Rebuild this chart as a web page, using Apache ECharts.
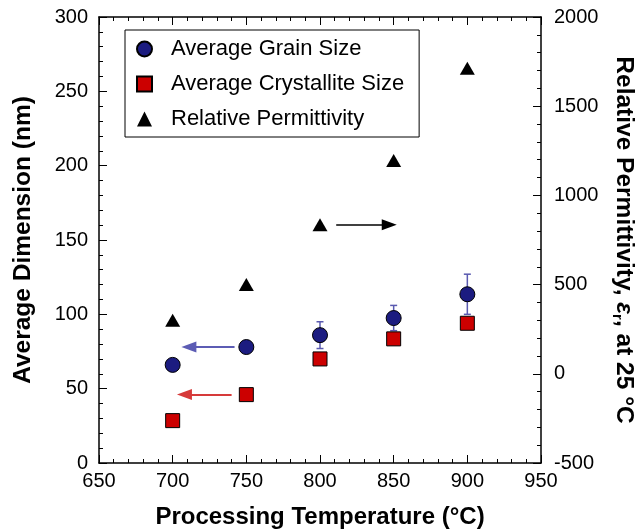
<!DOCTYPE html>
<html>
<head>
<meta charset="utf-8">
<script src="https://cdn.jsdelivr.net/npm/echarts@6/dist/echarts.min.js"></script>
<style>
  html, body { margin: 0; padding: 0; background: #fff; }
  #chart { width: 642px; height: 531px; }
</style>
</head>
<body>
<div id="chart"></div>
<script>
// processing temperature (°C)
const temps = [700, 750, 800, 850, 900];
// average grain size (nm) and its error (+/-)
const grainSize = [66, 78, 86, 97.5, 113.5];
const grainErr = [0, 0, 9, 8.5, 13.5];
// average crystallite size (nm)
const crystalSize = [28.5, 46, 70, 83.5, 94];
// relative permittivity at 25 °C (right axis)
const permittivity = [300, 500, 835, 1195, 1713];

// annotation arrows, [start, end] in data units
const grainArrow = [[742, 78], [711, 78]];
const crystalArrow = [[740, 46], [708, 46]];
const permArrow = [[811, 835], [847, 835]];

const font = "'Liberation Sans', Arial, Helvetica, sans-serif";

const chart = echarts.init(document.getElementById("chart"));

function arrowLine(pts, color, width) {
  return {
    silent: true,
    symbol: ["none", "triangle"],
    symbolSize: [11, 15],
    label: { show: false },
    lineStyle: { color: color, width: width, type: "solid" },
    emphasis: { disabled: true },
    data: [[{ coord: pts[0] }, { coord: pts[1] }]],
  };
}

const tickLabel = { fontSize: 20, color: "#000", fontFamily: font };

chart.setOption({
  animation: false,
  textStyle: { fontFamily: font },
  grid: { left: 99, right: 101, top: 17, bottom: 68, outerBoundsMode: "none" },
  legend: {
    orient: "vertical",
    left: 125,
    top: 30,
    borderColor: "#000",
    borderWidth: 1,
    padding: [8, 15, 7, 11],
    itemWidth: 15,
    itemHeight: 15,
    itemGap: 13,
    textStyle: { fontSize: 22, color: "#000", padding: [0, 0, 0, 14] },
    data: ["Average Grain Size", "Average Crystallite Size", "Relative Permittivity"],
  },
  xAxis: [
    {
      type: "value",
      min: 650,
      max: 950,
      interval: 50,
      name: "Processing Temperature (°C)",
      nameLocation: "middle",
      nameGap: 42,
      nameTextStyle: { fontSize: 24, fontWeight: "bold", color: "#000" },
      axisLine: { onZero: false, lineStyle: { color: "#000", width: 1.5 } },
      axisTick: { inside: true, length: 8, lineStyle: { color: "#000" } },
      minorTick: { show: true, splitNumber: 5, length: 4, lineStyle: { color: "#000" } },
      axisLabel: Object.assign({ margin: 8 }, tickLabel),
      splitLine: { show: false },
    },
    {
      type: "value",
      position: "top",
      min: 650,
      max: 950,
      interval: 50,
      axisLine: { onZero: false, lineStyle: { color: "#000", width: 1.5 } },
      axisTick: { inside: true, length: 8, lineStyle: { color: "#000" } },
      minorTick: { show: true, splitNumber: 5, length: 4, lineStyle: { color: "#000" } },
      axisLabel: { show: false },
      splitLine: { show: false },
    },
  ],
  yAxis: [
    {
      type: "value",
      min: 0,
      max: 300,
      interval: 50,
      name: "Average Dimension (nm)",
      nameLocation: "middle",
      nameGap: 63,
      nameTextStyle: { fontSize: 24.5, fontWeight: "bold", color: "#000" },
      axisLine: { show: true, onZero: false, lineStyle: { color: "#000", width: 1.5 } },
      axisTick: { show: true, inside: true, length: 8, lineStyle: { color: "#000" } },
      minorTick: { show: true, splitNumber: 5, length: 4, lineStyle: { color: "#000" } },
      axisLabel: Object.assign({ margin: 11 }, tickLabel),
      splitLine: { show: false },
    },
    {
      type: "value",
      position: "right",
      min: -500,
      max: 2000,
      interval: 500,
      name: "Relative Permittivity, {e|ε}{sub|r}, at 25 °C",
      nameLocation: "middle",
      nameRotate: -90,
      nameGap: 67,
      nameTextStyle: {
        fontSize: 24.5,
        fontWeight: "bold",
        color: "#000",
        rich: {
          e: { fontSize: 24.5, fontStyle: "italic", fontWeight: "bold", color: "#000" },
          sub: { fontSize: 15, fontWeight: "bold", color: "#000", padding: [14, 0, 0, 0] },
        },
      },
      axisLine: { show: true, onZero: false, lineStyle: { color: "#000", width: 1.5 } },
      axisTick: { show: true, inside: true, length: 8, lineStyle: { color: "#000" } },
      minorTick: { show: true, splitNumber: 5, length: 4, lineStyle: { color: "#000" } },
      axisLabel: Object.assign({ margin: 13, formatter: (v) => String(v) }, tickLabel),
      splitLine: { show: false },
    },
  ],
  series: [
    {
      name: "errorbars",
      type: "custom",
      xAxisIndex: 0,
      yAxisIndex: 0,
      silent: true,
      z: 1,
      data: temps.map((t, i) => [t, grainSize[i] - grainErr[i], grainSize[i] + grainErr[i]]),
      renderItem: function (params, api) {
        const lo = api.coord([api.value(0), api.value(1)]);
        const hi = api.coord([api.value(0), api.value(2)]);
        if (hi[1] === lo[1]) return null;
        const w = 3.5;
        const st = { stroke: "#5a5ab0", lineWidth: 1.5 };
        return {
          type: "group",
          children: [
            { type: "line", shape: { x1: lo[0], y1: lo[1], x2: hi[0], y2: hi[1] }, style: st },
            { type: "line", shape: { x1: lo[0] - w, y1: lo[1], x2: lo[0] + w, y2: lo[1] }, style: st },
            { type: "line", shape: { x1: hi[0] - w, y1: hi[1], x2: hi[0] + w, y2: hi[1] }, style: st },
          ],
        };
      },
    },
    {
      name: "Average Grain Size",
      type: "scatter",
      yAxisIndex: 0,
      symbol: "circle",
      symbolSize: 15,
      z: 3,
      itemStyle: { color: "#1c1c80", borderColor: "#000", borderWidth: 1, opacity: 1 },
      data: temps.map((t, i) => [t, grainSize[i]]),
      markLine: arrowLine(grainArrow, "#5c5cb4", 2),
    },
    {
      name: "Average Crystallite Size",
      type: "scatter",
      yAxisIndex: 0,
      symbol: "rect",
      symbolSize: 14,
      z: 3,
      itemStyle: { color: "#cc0000", borderColor: "#000", borderWidth: 1, opacity: 1 },
      data: temps.map((t, i) => [t, crystalSize[i]]),
      markLine: arrowLine(crystalArrow, "#d63a3a", 2),
    },
    {
      name: "Relative Permittivity",
      type: "scatter",
      yAxisIndex: 1,
      symbol: "triangle",
      symbolSize: [15, 13],
      z: 3,
      itemStyle: { color: "#000", opacity: 1 },
      data: temps.map((t, i) => [t, permittivity[i]]),
      markLine: arrowLine(permArrow, "#000", 1.5),
    },
  ],
});
</script>
</body>
</html>
